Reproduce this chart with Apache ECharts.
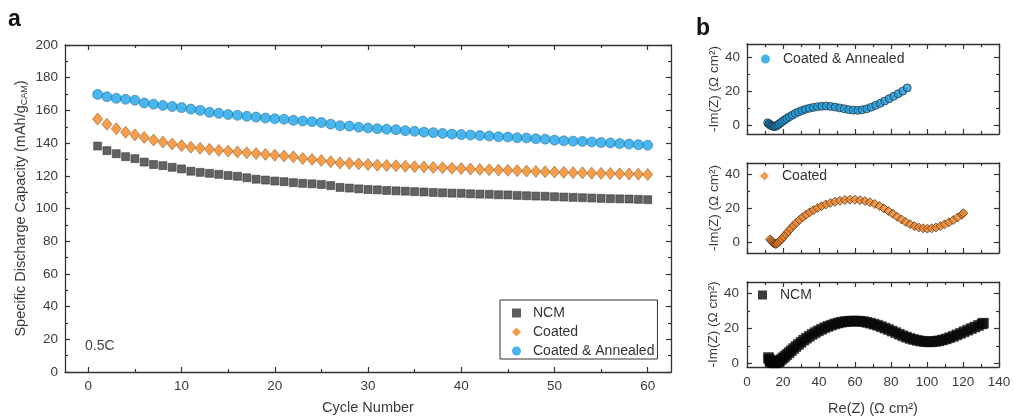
<!DOCTYPE html>
<html>
<head>
<meta charset="utf-8">
<script src="https://cdn.jsdelivr.net/npm/echarts@6/dist/echarts.min.js"></script>
<style>
html,body{margin:0;padding:0;background:#fff;}
#chart{width:1014px;height:416px;}
</style>
</head>
<body>
<div id="chart"></div>
<script>
// ---------- data ----------
const cycles = [1,2,3,4,5,6,7,8,9,10,11,12,13,14,15,16,17,18,19,20,21,22,23,24,25,26,27,28,29,30,
  31,32,33,34,35,36,37,38,39,40,41,42,43,44,45,46,47,48,49,50,51,52,53,54,55,56,57,58,59,60];
const ncmCapacity = [138.2,135.4,133.5,131.7,130.5,128.4,126.9,126.2,125.2,124.2,122.8,122.1,121.5,120.9,120.2,
  119.7,118.8,117.9,117.4,116.8,116.4,115.8,115.4,115.1,114.7,114.0,112.9,112.5,112.0,111.6,
  111.4,111.0,110.8,110.6,110.3,110.1,109.8,109.6,109.4,109.3,109.0,108.8,108.7,108.4,108.3,
  108.0,107.8,107.6,107.5,107.2,107.0,106.8,106.6,106.4,106.2,106.0,105.9,105.8,105.6,105.4];
const coatedCapacity = [154.7,151.5,148.8,146.6,145.0,143.5,141.9,140.6,139.5,138.5,137.5,136.8,136.2,135.6,135.1,
  134.6,134.1,133.6,133.1,132.6,132.1,131.6,130.6,130.0,129.4,128.6,127.9,127.6,127.3,126.9,
  126.5,126.3,126.1,125.9,125.6,125.4,125.1,124.9,124.6,124.4,124.1,123.9,123.7,123.5,123.4,
  123.1,122.9,122.7,122.5,122.3,122.1,121.9,121.8,121.6,121.5,121.4,121.2,121.1,121.0,120.8];
const annealedCapacity = [169.8,168.4,167.4,166.8,166.2,164.5,163.8,163.0,162.4,161.7,160.8,160.0,158.8,158.2,157.5,
  157.0,156.4,155.9,155.3,154.9,154.6,153.9,153.5,153.1,152.6,151.6,150.6,150.4,149.7,149.2,
  148.8,148.5,148.2,147.6,147.2,146.7,146.4,145.9,145.5,145.2,144.9,144.6,144.3,143.9,143.7,
  143.3,143.1,142.7,142.4,141.8,141.4,141.2,141.0,140.7,140.3,140.1,139.7,139.4,139.0,138.7];

// Nyquist data: [Re(Z), -Im(Z)]
const eisAnnealed = [[11.5,1.5],[12.2,0.9],[12.8,0.4],[13.4,0.0],[14.0,-0.3],[14.6,-0.5],[15.2,-0.6],[15.8,-0.5],
  [16.4,-0.2],[17.1,0.3],[17.9,0.9],[18.8,1.6],[19.8,2.4],[20.9,3.2],[22.1,4.1],[23.5,5.0],[25.1,6.0],
  [26.8,7.0],[28.6,7.9],[30.5,8.7],[32.5,9.4],[34.6,10.0],[36.8,10.5],[39.1,10.9],[41.5,11.2],[44.0,11.3],
  [46.5,11.1],[49.0,10.7],[51.5,10.2],[54.0,9.7],[56.5,9.2],[59.0,8.9],[61.5,8.8],[64.0,9.1],[66.5,9.7],
  [69.0,10.6],[71.5,11.7],[74.0,12.9],[76.5,14.2],[79.0,15.6],[81.5,17.0],[84.0,18.5],[86.5,20.0],[89.0,21.9]];
const eisCoated = [[12.8,2.0],[13.4,1.2],[14.0,0.5],[14.6,-0.1],[15.2,-0.5],[15.8,-0.7],[16.4,-0.6],[17.0,-0.2],
  [17.7,0.5],[18.5,1.3],[19.3,2.2],[20.4,3.5],[21.6,5.0],[22.9,6.6],[24.3,8.3],[25.8,10.0],[27.4,11.7],
  [29.1,13.3],[30.9,14.8],[32.8,16.3],[34.8,17.7],[36.9,19.0],[39.1,20.2],[41.4,21.3],[43.8,22.3],[46.3,23.2],
  [48.9,23.9],[51.6,24.5],[54.4,24.9],[57.2,25.1],[60.0,25.1],[62.8,24.8],[65.6,24.3],[68.3,23.6],[71.0,22.6],
  [73.6,21.4],[76.1,20.0],[78.6,18.5],[81.0,16.9],[83.4,15.2],[85.8,13.6],[88.2,12.1],[90.6,10.8],[93.0,9.7],
  [95.4,8.9],[97.8,8.4],[100.2,8.2],[102.6,8.4],[105.0,8.9],[107.4,9.7],[109.8,10.7],[112.2,11.9],[114.6,13.2],
  [117.0,14.7],[119.4,16.4],[120.2,17.2]];
const eisNcm = [[11.9,3.4],[12.3,2.5],[12.8,1.7],[13.3,1.1],[13.9,0.7],[14.5,0.5],[15.2,0.4],[15.9,0.5],[16.6,0.7],
  [17.4,1.1],[18.2,1.6],[19.1,2.4],[20.1,3.2],[21.1,4.1],[22.2,5.1],[23.4,6.2],[24.6,7.3],[25.9,8.5],[27.2,9.7],
  [28.6,10.9],[30.0,12.1],[31.5,13.3],[33.0,14.4],[34.6,15.5],[36.2,16.6],[37.9,17.6],[39.6,18.6],[41.4,19.5],
  [43.2,20.4],[45.0,21.2],[46.9,21.9],[48.8,22.6],[50.7,23.1],[52.6,23.6],[54.6,23.9],[56.6,24.1],[58.6,24.2],
  [60.6,24.2],[62.6,24.1],[64.6,23.9],[66.6,23.5],[68.6,23.0],[70.6,22.4],[72.6,21.8],[74.6,21.0],[76.6,20.2],
  [78.6,19.4],[80.6,18.5],[82.6,17.6],[84.6,16.7],[86.6,15.8],[88.6,15.0],[90.6,14.3],[92.6,13.7],[94.6,13.2],
  [96.6,12.8],[98.6,12.5],[100.6,12.4],[102.6,12.4],[104.6,12.6],[106.6,12.9],[108.6,13.4],[110.6,14.0],
  [112.6,14.7],[114.6,15.5],[116.6,16.3],[118.6,17.2],[120.6,18.1],[122.6,19.0],[124.6,19.9],[126.6,20.8],
  [128.6,21.7],[130.6,22.6],[131.4,23.0]];

// tick values
const capXMajor = [0,10,20,30,40,50,60];
const capXMinor = [5,15,25,35,45,55];
const capYMajor = [0,20,40,60,80,100,120,140,160,180,200];
const capYMinor = [10,30,50,70,90,110,130,150,170,190];
const eisXMajor = [0,20,40,60,80,100,120,140];
const eisXMinor = [10,30,50,70,90,110,130];
const eisYMajor = [0,20,40];
const eisYMinor = [10,30];

// ---------- chart ----------
const FONT = 'Liberation Sans, Arial, sans-serif';
const AX = '#333';
const LBL = '#3a3a3a';
const xAxes = [], yAxes = [];

function addFrame(g, xr, yr, xMaj, xMin, yMaj, yMin, o) {
  const line = {onZero:false, lineStyle:{color:AX, width:1.3}};
  const noLine = {show:false, onZero:false};
  const tick = (vals, len) => ({inside:true, length:len, customValues:vals, lineStyle:{color:AX, width:1.2}});
  const lab = (show, vals) => show ? {show:true, customValues:vals, color:LBL, fontSize:13.5, fontFamily:FONT, margin:o.labMargin || 7} : {show:false};
  const base = (extra) => Object.assign({type:'value', gridIndex:g, splitLine:{show:false}, scale:false}, extra);
  const xi = xAxes.length;
  xAxes.push(
    base({min:xr[0], max:xr[1], position:'bottom', axisLine:line, axisTick:tick(xMaj,5), axisLabel:lab(o.xLabels, xMaj),
      name:o.xName || '', nameLocation:'middle', nameGap:o.xNameGap || 28,
      nameTextStyle:{color:LBL, fontSize:14.5, fontFamily:FONT}}),
    base({min:xr[0], max:xr[1], position:'bottom', axisLine:noLine, axisTick:tick(xMin,3), axisLabel:{show:false}}),
    base({min:xr[0], max:xr[1], position:'top', axisLine:line, axisTick:tick(xMaj,5), axisLabel:{show:false}}),
    base({min:xr[0], max:xr[1], position:'top', axisLine:noLine, axisTick:tick(xMin,3), axisLabel:{show:false}})
  );
  const yi = yAxes.length;
  yAxes.push(
    base({min:yr[0], max:yr[1], position:'left', axisLine:line, axisTick:tick(yMaj,5), axisLabel:lab(true, yMaj),
      name:o.yName, nameLocation:'middle', nameGap:o.yNameGap, nameRotate:90,
      nameMoveOverlap:o.moveOverlap !== false, nameTextStyle:o.yNameStyle}),
    base({min:yr[0], max:yr[1], position:'left', axisLine:noLine, axisTick:tick(yMin,3), axisLabel:{show:false}}),
    base({min:yr[0], max:yr[1], position:'right', axisLine:line, axisTick:tick(yMaj,5), axisLabel:{show:false}}),
    base({min:yr[0], max:yr[1], position:'right', axisLine:noLine, axisTick:tick(yMin,3), axisLabel:{show:false}})
  );
  return {xi, yi};
}

const eisName = '-Im(Z) (Ω cm²)';
const eisNameStyle = {color:LBL, fontSize:13.5, fontFamily:FONT};

const fA = addFrame(0, [-2.5,62.5], [0,200], capXMajor, capXMinor, capYMajor, capYMinor, {
  xLabels:true, xName:'Cycle Number', xNameGap:28, moveOverlap:false,
  yName:'{n|Specific Discharge Capacity (mAh/g}{s|CAM}{n|)}', yNameGap:35,
  yNameStyle:{color:LBL, fontFamily:FONT, rich:{
    n:{fontSize:14.5, color:LBL, fontFamily:FONT, lineHeight:18},
    s:{fontSize:9, color:LBL, fontFamily:FONT, lineHeight:18, padding:[8,0,0,0]}}}
});
const f1 = addFrame(1, [0,140], [-5,47.5], eisXMajor, eisXMinor, eisYMajor, eisYMinor, {
  xLabels:false, yName:eisName, yNameGap:25, yNameStyle:eisNameStyle});
const f2 = addFrame(2, [0,140], [-6,46.5], eisXMajor, eisXMinor, eisYMajor, eisYMinor, {
  xLabels:false, yName:eisName, yNameGap:25, yNameStyle:eisNameStyle});
const f3 = addFrame(3, [0,140], [-2,46.5], eisXMajor, eisXMinor, eisYMajor, eisYMinor, {
  xLabels:true, xName:'Re(Z) (Ω cm²)', xNameGap:34, labMargin:8,
  yName:eisName, yNameGap:25, yNameStyle:eisNameStyle});

const C_NCM = '#3b3b3b', C_COAT = '#f5861f', C_ANN = '#1ba3e8';

function pairs(xs, ys) { return xs.map((x, i) => [x, ys[i]]); }

const series = [
  {name:'NCM', type:'scatter', xAxisIndex:fA.xi, yAxisIndex:fA.yi, data:pairs(cycles, ncmCapacity),
    symbol:'rect', symbolSize:8, itemStyle:{color:C_NCM, borderColor:'#222', borderWidth:0.6}},
  {name:'Coated', type:'scatter', xAxisIndex:fA.xi, yAxisIndex:fA.yi, data:pairs(cycles, coatedCapacity),
    symbol:'diamond', symbolSize:[10,12], itemStyle:{color:C_COAT, borderColor:'#8a5220', borderWidth:0.7}},
  {name:'Coated & Annealed', type:'scatter', xAxisIndex:fA.xi, yAxisIndex:fA.yi, data:pairs(cycles, annealedCapacity),
    symbol:'circle', symbolSize:10, itemStyle:{color:C_ANN, borderColor:'#2b6f99', borderWidth:0.7}},
  {name:'Coated & Annealed', type:'scatter', xAxisIndex:f1.xi, yAxisIndex:f1.yi, data:eisAnnealed,
    symbol:'circle', symbolSize:8, itemStyle:{color:'#1f9ad8', borderColor:'#1b2a36', borderWidth:0.9}},
  {name:'Coated', type:'scatter', xAxisIndex:f2.xi, yAxisIndex:f2.yi, data:eisCoated,
    symbol:'diamond', symbolSize:9, itemStyle:{color:'#ec842a', borderColor:'#4a2a10', borderWidth:0.9}},
  {name:'NCM', type:'scatter', xAxisIndex:f3.xi, yAxisIndex:f3.yi, data:eisNcm,
    symbol:'rect', symbolSize:10, itemStyle:{color:'#0a0a0a', borderColor:'#000', borderWidth:0.5}}
];

const legText = {color:'#333', fontSize:14, fontFamily:FONT, lineHeight:14, padding:[0,0,0,7]};
const legText2 = Object.assign({}, legText, {padding:[0,0,0,8]});
const option = {
  animation:false,
  backgroundColor:'#fff',
  textStyle:{fontFamily:FONT},
  grid:[
    {left:65, top:45, width:606, height:327, outerBoundsMode:'none', containLabel:false},
    {left:747, top:44, width:252, height:90, outerBoundsMode:'none', containLabel:false},
    {left:747, top:163, width:252, height:90, outerBoundsMode:'none', containLabel:false},
    {left:747, top:282, width:252, height:85, outerBoundsMode:'none', containLabel:false}
  ],
  xAxis:xAxes,
  yAxis:yAxes,
  legend:[
    {orient:'vertical', left:500, top:300, padding:[6,3,1,12], itemGap:5, itemWidth:9, itemHeight:9,
      borderColor:'#333', borderWidth:1, textStyle:legText, selectedMode:false,
      data:[
        {name:'NCM', itemStyle:{color:'#333', borderWidth:0}},
        {name:'Coated', itemStyle:{color:'#f08020', borderWidth:0}},
        {name:'Coated & Annealed', itemStyle:{color:'#1a9fe6', borderWidth:0}}
      ]},
    {left:761, top:52, padding:0, itemWidth:9, itemHeight:9, textStyle:legText2,
      selectedMode:false, data:[{name:'Coated & Annealed', itemStyle:{color:'#1a9fe6', borderWidth:0}}]},
    {left:760, top:169, padding:0, itemWidth:9, itemHeight:9, textStyle:legText2,
      selectedMode:false, data:[{name:'Coated', itemStyle:{color:'#ef8424', borderWidth:0}}]},
    {left:758, top:288, padding:0, itemWidth:9, itemHeight:9, textStyle:legText2,
      selectedMode:false, data:[{name:'NCM', itemStyle:{color:'#0a0a0a', borderWidth:0}}]}
  ],
  graphic:[
    {type:'text', left:8, top:8, style:{text:'a', fontSize:23, fontWeight:'bold', fill:'#111', fontFamily:FONT}},
    {type:'text', left:696, top:17, style:{text:'b', fontSize:23, fontWeight:'bold', fill:'#111', fontFamily:FONT}},
    {type:'text', left:85, top:339, style:{text:'0.5C', fontSize:14, fill:'#444', fontFamily:FONT}}
  ],
  series:series
};

const chart = echarts.init(document.getElementById('chart'), null, {renderer:'canvas'});
chart.setOption(option);
</script>
</body>
</html>
